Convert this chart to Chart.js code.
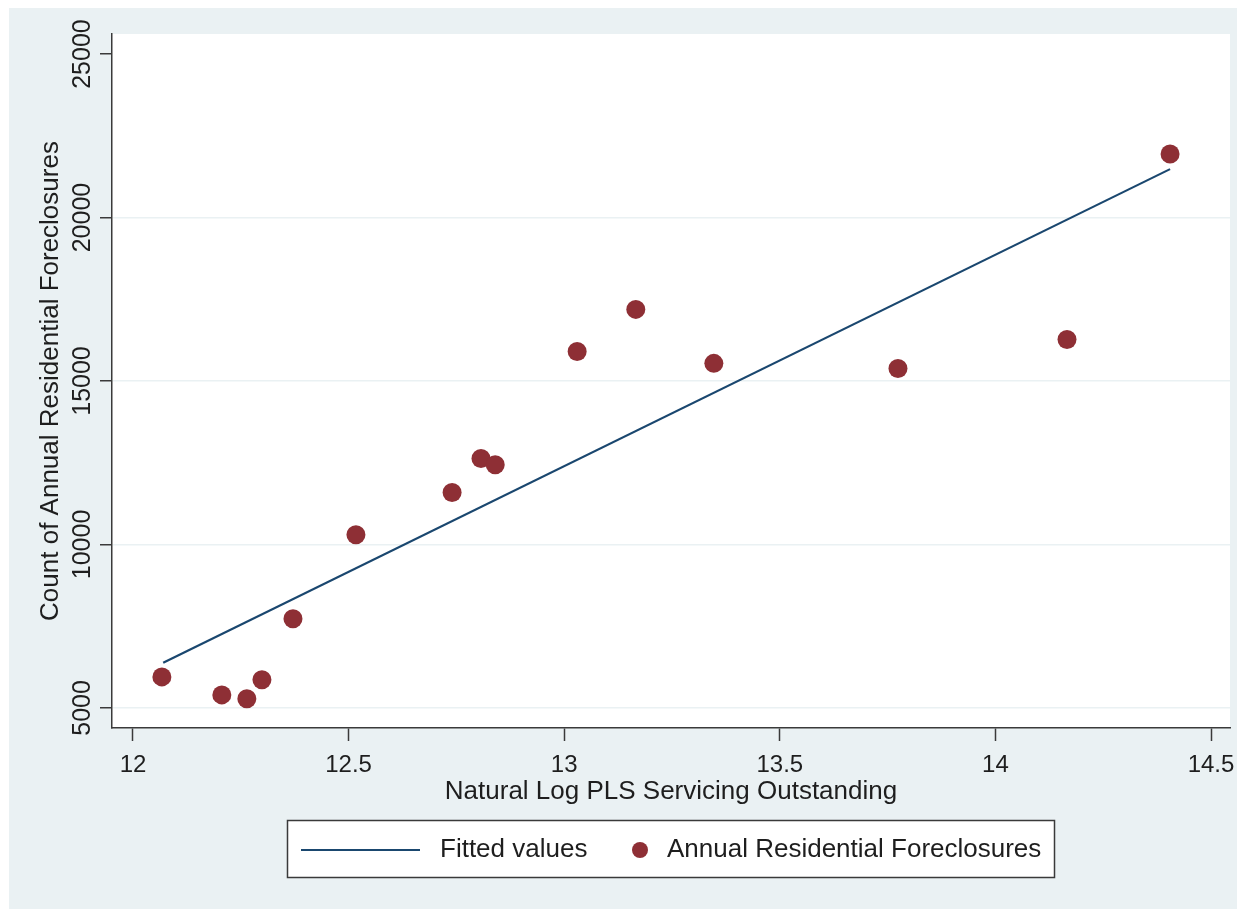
<!DOCTYPE html>
<html>
<head>
<meta charset="utf-8">
<title>Foreclosures vs PLS Servicing</title>
<script src="https://cdn.jsdelivr.net/npm/chart.js@4/dist/chart.umd.min.js"></script>
<style>
  html, body { margin: 0; padding: 0; background: #ffffff; }
  #wrap { width: 1246px; height: 909px; position: relative; }
</style>
</head>
<body>
<div id="wrap"><canvas id="c" width="1246" height="909"></canvas></div>
<script>
// Natural log of PLS servicing outstanding (x) and annual residential foreclosures (y)
const logServicing = [12.067, 12.206, 12.264, 12.299, 12.371, 12.517, 12.740, 12.807, 12.840, 13.030, 13.166, 13.347, 13.774, 14.166, 14.405];
const foreclosures = [5950, 5400, 5280, 5860, 7730, 10300, 11590, 12630, 12440, 15900, 17190, 15540, 15380, 16270, 21940];

// Fitted regression line end points
const fitX = [12.070, 14.405];
const fitY = [6380, 21480];

// Axis ticks
const xTicks = [12, 12.5, 13, 13.5, 14, 14.5];
const yTicks = [5000, 10000, 15000, 20000, 25000];

const xTitle = 'Natural Log PLS Servicing Outstanding';
const yTitle = 'Count of Annual Residential Foreclosures';
const fitLabel = 'Fitted values';
const pointLabel = 'Annual Residential Foreclosures';

const NAVY = '#1a476f';
const MAROON = '#8e2f35';
const REGION_BG = '#eaf1f3';
const AXIS = '#3a3a3a';
const TEXT = '#1e1e1e';
const FONT = '"Liberation Sans", Arial, sans-serif';

const fitData = fitX.map((x, i) => ({ x: x, y: fitY[i] }));
const pointData = logServicing.map((x, i) => ({ x: x, y: foreclosures[i] }));

// Graph region background, white plot region
const backdrop = {
  id: 'backdrop',
  beforeDraw(chart) {
    const ctx = chart.ctx;
    const a = chart.chartArea;
    ctx.save();
    ctx.fillStyle = '#ffffff';
    ctx.fillRect(0, 0, chart.width, chart.height);
    ctx.fillStyle = REGION_BG;
    ctx.fillRect(9, 8, 1228, 901);
    ctx.fillStyle = '#ffffff';
    ctx.fillRect(a.left, a.top, a.right - a.left, a.bottom - a.top);
    ctx.restore();
  }
};

// Vertical tick labels on the y axis
const yLabels = {
  id: 'yLabels',
  afterDraw(chart) {
    const ctx = chart.ctx;
    const ys = chart.scales.y;
    ctx.save();
    ctx.fillStyle = TEXT;
    ctx.font = '25px ' + FONT;
    ctx.textAlign = 'center';
    ctx.textBaseline = 'middle';
    yTicks.forEach(v => {
      const py = ys.getPixelForValue(v);
      ctx.save();
      ctx.translate(83, py);
      ctx.rotate(-Math.PI / 2);
      ctx.fillText(String(v), 0, 0);
      ctx.restore();
    });
    ctx.restore();
  }
};

// Boxed legend below the x axis, built from the datasets
const boxedLegend = {
  id: 'boxedLegend',
  afterDraw(chart) {
    const ctx = chart.ctx;
    const ds = chart.data.datasets;
    const top = 820, h = 58, left = 287, w = 768;
    const cy = top + h / 2 + 1;
    ctx.save();
    ctx.fillStyle = '#ffffff';
    ctx.fillRect(left, top, w, h);
    ctx.strokeStyle = AXIS;
    ctx.lineWidth = 1.5;
    ctx.strokeRect(left + 0.5, top + 0.5, w - 1, h - 1);
    ctx.font = '26px ' + FONT;
    ctx.fillStyle = TEXT;
    ctx.textBaseline = 'middle';
    ctx.textAlign = 'left';
    // line sample
    ctx.strokeStyle = ds[0].borderColor;
    ctx.lineWidth = ds[0].borderWidth;
    ctx.beginPath();
    ctx.moveTo(301, cy);
    ctx.lineTo(420, cy);
    ctx.stroke();
    ctx.fillText(ds[0].label, 440, cy);
    // marker sample
    ctx.fillStyle = ds[1].backgroundColor;
    ctx.beginPath();
    ctx.arc(640, cy, 8, 0, Math.PI * 2);
    ctx.fill();
    ctx.fillStyle = TEXT;
    ctx.fillText(ds[1].label, 667, cy);
    ctx.restore();
  }
};

new Chart(document.getElementById('c'), {
  type: 'scatter',
  data: {
    datasets: [
      {
        type: 'line',
        label: fitLabel,
        data: fitData,
        borderColor: NAVY,
        backgroundColor: NAVY,
        borderWidth: 2.2,
        pointRadius: 0,
        fill: false,
        tension: 0,
        order: 2
      },
      {
        type: 'scatter',
        label: pointLabel,
        data: pointData,
        backgroundColor: MAROON,
        borderColor: MAROON,
        borderWidth: 0,
        pointRadius: 9.5,
        pointHoverRadius: 9.5,
        order: 1
      }
    ]
  },
  options: {
    responsive: false,
    animation: false,
    events: [],
    layout: { padding: { top: 34, right: 16, bottom: 101, left: 0 } },
    plugins: {
      legend: { display: false },
      tooltip: { enabled: false }
    },
    scales: {
      x: {
        type: 'linear',
        position: 'bottom',
        min: 11.9513,
        max: 14.544,
        afterBuildTicks(scale) { scale.ticks = xTicks.map(v => ({ value: v })); },
        afterFit(scale) { scale.height = 80; },
        border: { display: true, color: AXIS, width: 1.5 },
        grid: {
          drawOnChartArea: false,
          drawTicks: true,
          tickLength: 13,
          tickColor: AXIS,
          tickWidth: 1.5
        },
        ticks: {
          color: TEXT,
          font: { family: FONT, size: 24 },
          padding: 10,
          maxRotation: 0,
          autoSkip: false,
          callback: v => String(v)
        },
        title: {
          display: true,
          text: xTitle,
          color: TEXT,
          font: { family: FONT, size: 26 },
          padding: { top: 0, bottom: 1 }
        }
      },
      y: {
        type: 'linear',
        position: 'left',
        min: 4387,
        max: 25613,
        afterBuildTicks(scale) { scale.ticks = yTicks.map(v => ({ value: v })); },
        afterFit(scale) { scale.width = 112; },
        border: { display: true, color: AXIS, width: 1.5 },
        grid: {
          drawOnChartArea: true,
          drawTicks: true,
          tickLength: 12,
          tickColor: AXIS,
          tickWidth: 1.5,
          lineWidth: 1.5,
          color: ctx => (ctx.tick && ctx.tick.value === 25000) ? 'rgba(0,0,0,0)' : REGION_BG
        },
        ticks: {
          display: false
        },
        title: {
          display: true,
          text: yTitle,
          color: TEXT,
          font: { family: FONT, size: 26 },
          padding: { top: 35, bottom: 0 }
        }
      }
    }
  },
  plugins: [backdrop, yLabels, boxedLegend]
});
</script>
</body>
</html>
